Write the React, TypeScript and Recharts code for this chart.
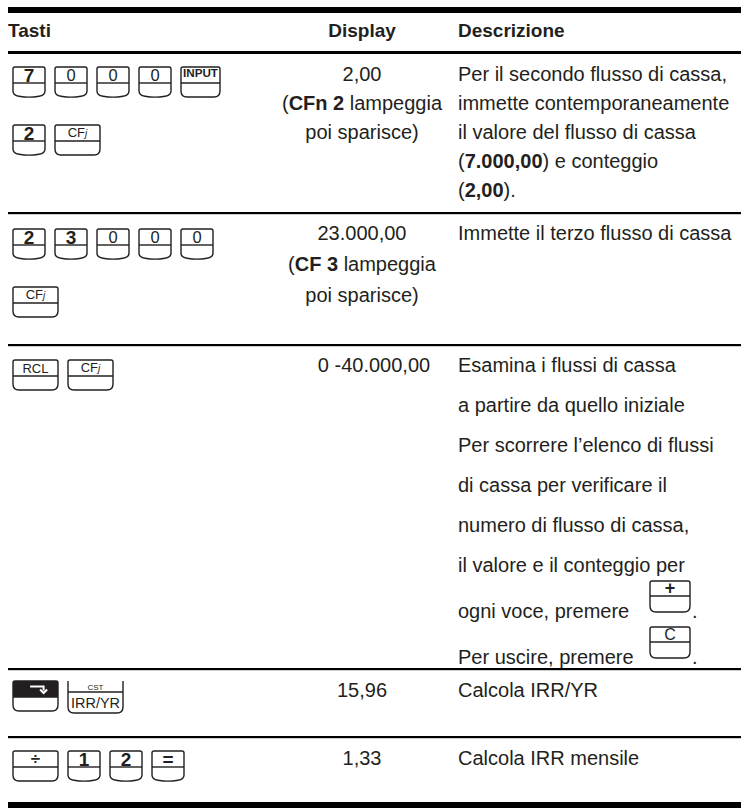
import React from 'react';
import { ComposedChart, Customized } from 'recharts';

// ---------------- data ----------------
const headers = ['Tasti', 'Display', 'Descrizione'];

// keys pressed, per row, per visual line
const keyRows: string[][][] = [
  [['7', '0', '0', '0', 'INPUT'], ['2', 'CFj']],
  [['2', '3', '0', '0', '0'], ['CFj']],
  [['RCL', 'CFj']],
  [['SHIFT', 'IRR/YR']],
  [['÷', '1', '2', '=']],
];

// display column, per row
const displayLines: string[][] = [
  ['2,00', '(**CFn 2** lampeggia', 'poi sparisce)'],
  ['23.000,00', '(**CF 3** lampeggia', 'poi sparisce)'],
  ['0 -40.000,00'],
  ['15,96'],
  ['1,33'],
];

// description column, per row ([x] = inline key)
const descLines: string[][] = [
  [
    'Per il secondo flusso di cassa,',
    'immette contemporaneamente',
    'il valore del flusso di cassa',
    '(**7.000,00**) e conteggio',
    '(**2,00**).',
  ],
  ['Immette il terzo flusso di cassa'],
  [
    'Esamina i flussi di cassa',
    'a partire da quello iniziale',
    'Per scorrere l\u2019elenco di flussi',
    'di cassa per verificare il',
    'numero di flusso di cassa,',
    'il valore e il conteggio per',
    'ogni voce, premere [+].',
    'Per uscire, premere [C].',
  ],
  ['Calcola IRR/YR'],
  ['Calcola IRR mensile'],
];

// ---------------- layout ----------------
const W = 743;
const H = 808;
const FONT = '"Liberation Sans", Arial, sans-serif';
const INK = '#231f20';
const FS = 20;
const LEFT = 8;
const RIGHT = 741;
const KEY_LEFT = 13;
const DISPLAY_CX = 362;
const DESC_X = 458;
const KEY_H = 30;
const KEY_DIV = 16;
const KEY_GAP = 10;
const INLINE_KEY_X = 650;

const rowRuleYs = [213, 345, 669, 737];
const rowLayout = [
  { base: 81, step: 29, dStep: 29, keyTops: [67, 125], dispDx: 0 },
  { base: 240, step: 29, dStep: 31, keyTops: [229, 287], dispDx: 0 },
  { base: 372, step: 40, dStep: 40, keyTops: [360], dispDx: 12 },
  { base: 697, step: 29, dStep: 29, keyTops: [681], dispDx: 0 },
  { base: 765, step: 29, dStep: 29, keyTops: [751], dispDx: 0 },
];

type KeyKind = 'num' | 'fn' | 'input' | 'shift' | 'irr';
const kindOf = (label: string): KeyKind => {
  if (/^[0-9=]$/.test(label)) return 'num';
  if (label === 'INPUT') return 'input';
  if (label === 'SHIFT') return 'shift';
  if (label === 'IRR/YR') return 'irr';
  return 'fn';
};
const widthOf: Record<KeyKind, number> = { num: 32, fn: 45, input: 39, shift: 45, irr: 55 };

function keyPath(x: number, y: number, w: number, h: number, curved: boolean, openTop = false) {
  const top = openTop
    ? `M ${x + w},${y} `
    : `M ${x + 2},${y} H ${x + w - 2} Q ${x + w},${y} ${x + w},${y + 2} `;
  const right = `V ${y + h - 6} `;
  const bottom = curved
    ? `Q ${x + w},${y + h - 1.5} ${x + w - 6},${y + h - 0.8} Q ${x + w / 2},${y + h + 1} ${x + 6},${y + h - 0.8} Q ${x},${y + h - 1.5} ${x},${y + h - 6} `
    : `Q ${x + w},${y + h} ${x + w - 6},${y + h} H ${x + 6} Q ${x},${y + h} ${x},${y + h - 6} `;
  const left = openTop ? `V ${y}` : `V ${y + 2} Q ${x},${y} ${x + 2},${y} Z`;
  return top + right + bottom + left;
}

function KeyIcon({ x, y, label }: { x: number; y: number; label: string }) {
  const kind = kindOf(label);
  const w = widthOf[kind];
  const h = KEY_H;
  const div = y + KEY_DIV;
  const cx = x + w / 2;
  const stroke = { stroke: INK, strokeWidth: 1.4, fill: '#fff' };
  if (kind === 'irr') {
    return (
      <g>
        <path d={keyPath(x, y, w, h + 2, false, true)} {...stroke} />
        <line x1={x} x2={x + w} y1={y + 11} y2={y + 11} stroke={INK} strokeWidth={1.4} />
        <text x={cx} y={y + 8.5} textAnchor="middle" fontFamily={FONT} fontSize={8} fill={INK}>CST</text>
        <text x={cx} y={y + 27} textAnchor="middle" fontFamily={FONT} fontSize={15} fill={INK}
          textLength={w - 6} lengthAdjust="spacingAndGlyphs">IRR/YR</text>
      </g>
    );
  }
  return (
    <g>
      <path d={keyPath(x, y, w, h, kind === 'num')} {...stroke} />
      {kind === 'shift' && (
        <path d={`M ${x + 2},${y} H ${x + w - 2} Q ${x + w},${y} ${x + w},${y + 2} V ${div} H ${x} V ${y + 2} Q ${x},${y} ${x + 2},${y} Z`} fill={INK} />
      )}
      <line x1={x} x2={x + w} y1={div} y2={div} stroke={INK} strokeWidth={1.4} />
      {kind === 'num' && (
        <text x={cx} y={y + (label === '0' ? 14 : 14.5)} textAnchor="middle" fontFamily={FONT}
          fontSize={label === '0' ? 16.5 : 19} fontWeight={label === '0' ? 'normal' : 'bold'} fill={INK}>{label}</text>
      )}
      {kind === 'input' && (
        <text x={cx} y={y + 10} textAnchor="middle" fontFamily={FONT} fontSize={11} fontWeight="bold" fill={INK}
          textLength={w - 4} lengthAdjust="spacingAndGlyphs">{label}</text>
      )}
      {kind === 'fn' && label === 'CFj' && (
        <text x={cx} y={y + 12} textAnchor="middle" fontFamily={FONT} fontSize={13} fill={INK}>
          CF<tspan fontStyle="italic" fontSize={10}>j</tspan>
        </text>
      )}
      {kind === 'fn' && label !== 'CFj' && (
        <text x={cx} y={y + (label === 'RCL' ? 12.5 : 13)} textAnchor="middle" fontFamily={FONT}
          fontSize={label === 'RCL' ? 13 : 17} fontWeight={label === 'RCL' ? 'normal' : 'bold'} fill={INK}>{label}</text>
      )}
      {kind === 'shift' && (
        <g stroke="#fff" strokeWidth={2} fill="none">
          <path d={`M ${x + w * 0.38},${y + 5.5} H ${x + w * 0.68} V ${y + 9.5}`} />
          <path d={`M ${x + w * 0.68 - 3.5},${y + 8.5} L ${x + w * 0.68},${y + 12} L ${x + w * 0.68 + 3.5},${y + 8.5}`} />
        </g>
      )}
    </g>
  );
}

function Rich({ x, y, anchor, text }: { x: number; y: number; anchor: 'start' | 'middle'; text: string }) {
  const parts = text.split('**');
  return (
    <text x={x} y={y} textAnchor={anchor} fontFamily={FONT} fontSize={FS} fill={INK}>
      {parts.map((p, i) => (
        <tspan key={i} fontWeight={i % 2 ? 'bold' : 'normal'}>{p}</tspan>
      ))}
    </text>
  );
}

function InlineKey({ x, y, label, w }: { x: number; y: number; label: string; w: number }) {
  const h = 31;
  return (
    <g>
      <path d={keyPath(x, y, w, h, false)} stroke={INK} strokeWidth={1.4} fill="#fff" />
      <line x1={x} x2={x + w} y1={y + 15} y2={y + 15} stroke={INK} strokeWidth={1.4} />
      <text x={x + w / 2} y={y + 13} textAnchor="middle" fontFamily={FONT} fontSize={label === '+' ? 18 : 16}
        fontWeight={label === '+' ? 'bold' : 'normal'} fill={INK}>{label}</text>
    </g>
  );
}

function DescLine({ y, text }: { y: number; text: string }) {
  const m = text.match(/^(.*?)\s*\[(.+?)\](.*)$/);
  if (!m) return <Rich x={DESC_X} y={y} anchor="start" text={text} />;
  const [, before, key, after] = m;
  const kw = 40;
  return (
    <g>
      <Rich x={DESC_X} y={y} anchor="start" text={before} />
      <InlineKey x={INLINE_KEY_X} y={y - 37} label={key} w={kw} />
      <Rich x={INLINE_KEY_X + kw + 2} y={y} anchor="start" text={after} />
    </g>
  );
}

function Table() {
  const out: React.ReactNode[] = [];
  // rules
  out.push(<rect key="rt" x={LEFT} y={7} width={RIGHT - LEFT} height={6} fill="#000" />);
  out.push(<rect key="rh" x={LEFT} y={51} width={RIGHT - LEFT} height={3} fill="#000" />);
  rowRuleYs.forEach((ry, i) =>
    out.push(<rect key={`rr${i}`} x={LEFT} y={ry - 1} width={RIGHT - LEFT} height={2.2} fill="#000" />)
  );
  out.push(<rect key="rb" x={LEFT} y={802} width={RIGHT - LEFT} height={6} fill="#000" />);
  // headers
  const hy = 37;
  out.push(
    <text key="h0" x={LEFT} y={hy} fontFamily={FONT} fontSize={19} fontWeight="bold" fill={INK}>{headers[0]}</text>,
    <text key="h1" x={DISPLAY_CX} y={hy} textAnchor="middle" fontFamily={FONT} fontSize={19} fontWeight="bold" fill={INK}>{headers[1]}</text>,
    <text key="h2" x={DESC_X} y={hy} fontFamily={FONT} fontSize={19} fontWeight="bold" fill={INK}>{headers[2]}</text>
  );
  rowLayout.forEach((rl, r) => {
    // keys
    keyRows[r].forEach((line, li) => {
      let x = KEY_LEFT;
      line.forEach((label, ki) => {
        out.push(<KeyIcon key={`k${r}-${li}-${ki}`} x={x} y={rl.keyTops[li]} label={label} />);
        x += widthOf[kindOf(label)] + KEY_GAP;
      });
    });
    // display
    displayLines[r].forEach((t, i) =>
      out.push(<Rich key={`d${r}-${i}`} x={DISPLAY_CX + rl.dispDx} y={rl.base + i * rl.dStep} anchor="middle" text={t} />)
    );
    // description
    let y = rl.base;
    descLines[r].forEach((t, i) => {
      if (i > 0) y += rl.step + (/\[/.test(t) ? 6 : 0);
      out.push(<DescLine key={`s${r}-${i}`} y={y} text={t} />);
    });
  });
  return <g>{out}</g>;
}

const chartData = [{ x: 0 }];

export default function App() {
  return (
    <div style={{ position: 'absolute', left: 0, top: 0, width: W, height: H, background: '#fff' }}>
      <ComposedChart width={W} height={H} data={chartData} margin={{ top: 0, right: 0, bottom: 0, left: 0 }}>
        <Customized component={Table} />
      </ComposedChart>
    </div>
  );
}
